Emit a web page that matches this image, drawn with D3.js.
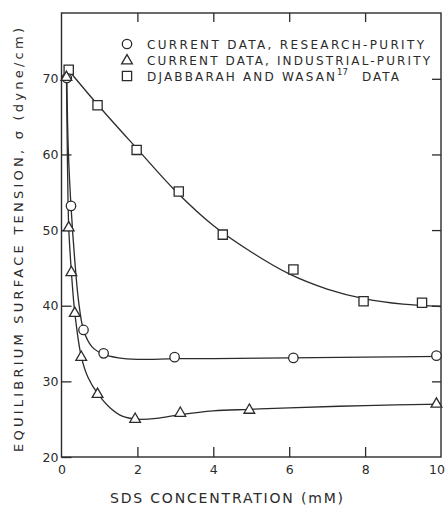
<!DOCTYPE html>
<html>
<head>
<meta charset="utf-8">
<script src="https://cdn.jsdelivr.net/npm/d3@7"></script>
<style>
  html, body { margin: 0; padding: 0; background: #ffffff; }
  svg { display: block; }
  text { font-family: "DejaVu Sans", sans-serif; fill: #2b2b2b; }
</style>
</head>
<body>
<script>
// ---- Data ----
// Research-purity (circles)
const researchX = [0.14, 0.25, 0.58, 1.11, 2.98, 6.11, 9.88];
const researchY = [70.1, 53.2, 36.8, 33.7, 33.2, 33.1, 33.4];
// Industrial-purity (triangles)
const industrialX = [0.13, 0.19, 0.26, 0.35, 0.52, 0.95, 1.94, 3.13, 4.95, 9.88];
const industrialY = [70.3, 50.4, 44.5, 39.1, 33.3, 28.4, 25.1, 25.9, 26.3, 27.1];
// Djabbarah and Wasan (squares)
const djabX = [0.19, 0.95, 1.98, 3.09, 4.25, 6.11, 7.96, 9.5];
const djabY = [71.2, 66.5, 60.6, 55.1, 49.4, 44.8, 40.6, 40.4];

// Smoothed fitted curves
const researchCurveX = [0.14, 0.18, 0.25, 0.35, 0.45, 0.58, 0.8, 1.1, 1.5, 2, 3, 4, 6, 8, 10];
const researchCurveY = [70.1, 60.5, 53.2, 46.0, 40.6, 36.8, 34.6, 33.6, 33.1, 32.9, 33.0, 33.0, 33.1, 33.2, 33.3];
const industrialCurveX = [0.13, 0.16, 0.19, 0.26, 0.35, 0.52, 0.7, 0.95, 1.3, 1.6, 2, 2.5, 3.13, 4, 4.95, 6, 8, 10];
const industrialCurveY = [70.3, 58.0, 50.4, 44.5, 39.1, 33.3, 30.5, 28.4, 26.4, 25.4, 25.0, 25.1, 25.6, 26.1, 26.3, 26.5, 26.8, 27.0];
const djabCurveX = [0.16, 1, 2, 3, 4, 5, 6, 7, 8, 9, 10];
const djabCurveY = [71.3, 66.3, 60.7, 55.2, 50.6, 47.1, 44.2, 42.2, 40.9, 40.2, 39.9];

// Axes
const xTicks = [0, 2, 4, 6, 8, 10];
const xInnerTicks = [2, 4, 6, 8];
const yTicks = [20, 30, 40, 50, 60, 70];
const yInnerTicks = [30, 40, 50, 60, 70];
const xDomain = [0, 10];
const yDomain = [20, 78.7];

// Text
const legendLabels = ["CURRENT DATA, RESEARCH-PURITY", "CURRENT DATA, INDUSTRIAL-PURITY", "DJABBARAH AND WASAN"];
const xTitle = "SDS CONCENTRATION (mM)";
const yTitle = "EQUILIBRIUM SURFACE TENSION, σ (dyne/cm)";

// ---- Drawing ----
const W = 446, H = 506;
const pLeft = 61.5, pRight = 441, pTop = 13, pBottom = 457;
const ink = "#2b2b2b";

const svg = d3.select("body").append("svg").attr("width", W).attr("height", H);
svg.append("rect").attr("width", W).attr("height", H).attr("fill", "#ffffff");

const x = d3.scaleLinear().domain(xDomain).range([pLeft, pRight]);
const y = d3.scaleLinear().domain(yDomain).range([pBottom, pTop]);

// frame
svg.append("rect")
  .attr("x", pLeft).attr("y", pTop)
  .attr("width", pRight - pLeft).attr("height", pBottom - pTop)
  .attr("fill", "none").attr("stroke", ink).attr("stroke-width", 1.4);

function styleAxis(g) {
  g.select(".domain").remove();
  g.selectAll(".tick line").attr("stroke", ink).attr("stroke-width", 1.3);
  g.selectAll(".tick text").attr("fill", ink).style("font-family", "DejaVu Sans, sans-serif");
}

// left axis
svg.append("g").attr("transform", `translate(${pLeft},0)`)
  .call(d3.axisLeft(y).tickValues(yTicks).tickSize(-10).tickPadding(3).tickSizeOuter(0))
  .call(styleAxis)
  .call(g => g.selectAll(".tick text").attr("font-size", 12.5));

// right axis (ticks only)
svg.append("g").attr("transform", `translate(${pRight},0)`)
  .call(d3.axisRight(y).tickValues(yInnerTicks).tickSize(-9).tickFormat("").tickSizeOuter(0))
  .call(styleAxis);

// bottom axis
svg.append("g").attr("transform", `translate(0,${pBottom})`)
  .call(d3.axisBottom(x).tickValues(xTicks).tickSize(-10).tickPadding(8).tickSizeOuter(0))
  .call(styleAxis)
  .call(g => g.selectAll(".tick text").attr("font-size", 12.5))
  .call(g => g.selectAll(".tick text").filter(d => d === 10)
    .attr("text-anchor", "end").attr("x", W - pRight - 1.5))
  .call(g => g.selectAll(".tick line").filter(d => d === 0 || d === 10).remove());

// top axis (ticks only)
svg.append("g").attr("transform", `translate(0,${pTop})`)
  .call(d3.axisTop(x).tickValues(xInnerTicks).tickSize(-9).tickFormat("").tickSizeOuter(0))
  .call(styleAxis);

// curves
const line = d3.line().x(d => x(d[0])).y(d => y(d[1])).curve(d3.curveCatmullRom.alpha(0.5));
const curves = [
  [researchCurveX, researchCurveY],
  [industrialCurveX, industrialCurveY],
  [djabCurveX, djabCurveY]
];
curves.forEach(([xs, ys]) => {
  svg.append("path")
    .datum(xs.map((v, i) => [v, ys[i]]))
    .attr("d", line)
    .attr("fill", "none").attr("stroke", ink).attr("stroke-width", 1.3);
});

// markers
const sym = {
  circle: d3.symbol().type(d3.symbolCircle).size(70),
  triangle: d3.symbol().type(d3.symbolTriangle).size(50),
  square: d3.symbol().type(d3.symbolSquare).size(85)
};
function drawMarkers(xs, ys, shape, dy) {
  svg.append("g").selectAll("path")
    .data(xs.map((v, i) => [v, ys[i]]))
    .join("path")
    .attr("transform", d => `translate(${x(d[0])},${y(d[1]) + (dy || 0)})`)
    .attr("d", sym[shape])
    .attr("fill", "#ffffff").attr("stroke", ink).attr("stroke-width", 1.3);
}
drawMarkers(djabX, djabY, "square");
drawMarkers(researchX, researchY, "circle");
drawMarkers(industrialX, industrialY, "triangle", 0.8);

// legend
const legX = 127, legTextX = 147;
const legRows = [44, 60, 76];
const legShapes = ["circle", "triangle", "square"];
const legEnds = [424, 430, 335];
legRows.forEach((ry, i) => {
  svg.append("path")
    .attr("transform", `translate(${legX},${ry + (i === 1 ? 0.8 : 0)})`)
    .attr("d", sym[legShapes[i]])
    .attr("fill", "#ffffff").attr("stroke", ink).attr("stroke-width", 1.3);
  svg.append("text")
    .attr("x", legTextX).attr("y", ry + 4.5)
    .attr("font-size", 12)
    .attr("textLength", legEnds[i] - legTextX)
    .attr("lengthAdjust", "spacing")
    .text(legendLabels[i]);
});
svg.append("text")
  .attr("x", 337).attr("y", legRows[2] - 1)
  .attr("font-size", 8.5)
  .text("17");
svg.append("text")
  .attr("x", 362).attr("y", legRows[2] + 4.5)
  .attr("font-size", 12)
  .attr("textLength", 37).attr("lengthAdjust", "spacing")
  .text("DATA");

// axis titles
svg.append("text")
  .attr("x", 110).attr("y", 503)
  .attr("font-size", 14)
  .attr("textLength", 233).attr("lengthAdjust", "spacing")
  .text(xTitle);

svg.append("text")
  .attr("transform", "translate(23,452) rotate(-90)")
  .attr("x", 0).attr("y", 0)
  .attr("font-size", 13)
  .attr("textLength", 424).attr("lengthAdjust", "spacing")
  .text(yTitle);
</script>
</body>
</html>
